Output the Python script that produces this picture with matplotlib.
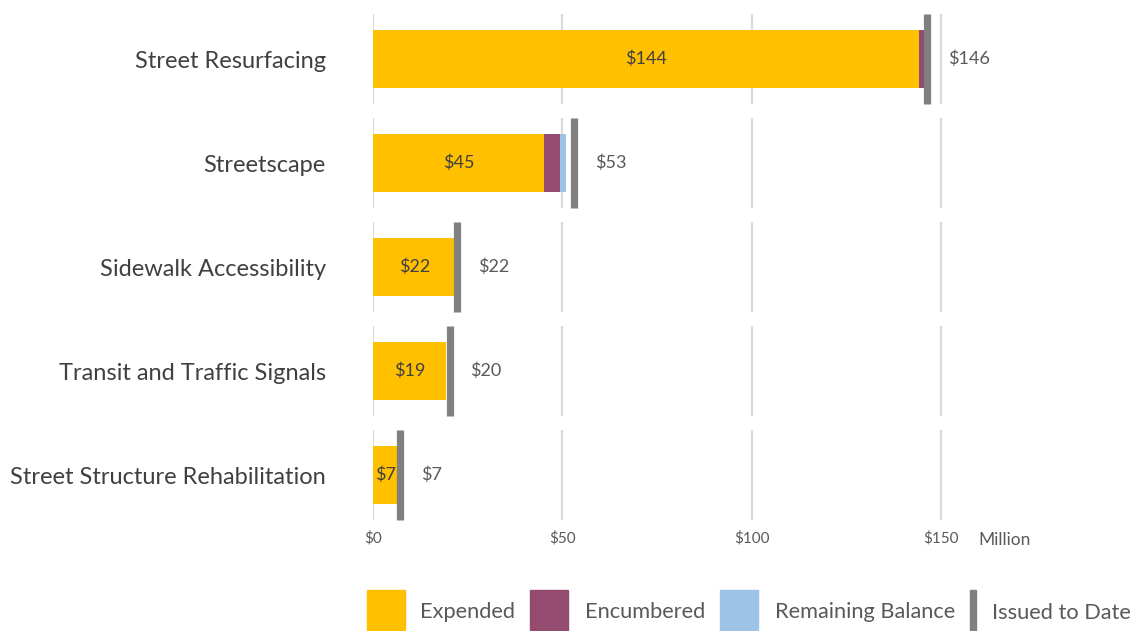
import matplotlib.pyplot as plt
from matplotlib.patches import Rectangle

# bond program spending by category, $ million
categories = ["Street Resurfacing", "Streetscape", "Sidewalk Accessibility",
              "Transit and Traffic Signals", "Street Structure Rehabilitation"]
expended = [144.1, 45.1, 21.8, 19.3, 6.6]
encumbered = [1.5, 4.4, 0.0, 0.0, 0.0]
remaining = [0.3, 1.4, 0.0, 0.0, 0.0]
issued = [146.3, 53.2, 22.2, 20.2, 7.1]
ticks = [0, 50, 100, 150]
tick_labels = ["$0", "$50", "$100", "$150"]

c_exp = "#FFC000"
c_enc = "#934C70"
c_rem = "#9DC3E6"
c_iss = "#808080"
c_grid = "#D9D9D9"

plt.rcParams["font.family"] = ["Lato", "DejaVu Sans"]

fig = plt.figure(figsize=(11.35, 6.31), dpi=100)
W, H = 1135, 631
ax = fig.add_axes([373 / W, 1 - 527 / H, 606 / W, 520 / H])

y = list(range(len(categories)))
half = 0.43

# gridlines, broken per row
for i in y:
    ax.vlines(ticks, i - half, i + half, color=c_grid, lw=1.6, zorder=0)

left2 = [a + b for a, b in zip(expended, encumbered)]
ax.barh(y, expended, height=0.55, color=c_exp, zorder=2)
ax.barh(y, encumbered, left=expended, height=0.55, color=c_enc, zorder=2)
ax.barh(y, remaining, left=left2, height=0.55, color=c_rem, zorder=2)
for i in y:
    ax.vlines(issued[i], i - half, i + half, color=c_iss, lw=5.2, zorder=3)
    ax.text(expended[i] / 2, i, "$%d" % round(expended[i]), ha="center", va="center",
            fontsize=13, color="#404040", zorder=4)
    ax.text(issued[i] + 5.5, i, "$%d" % round(issued[i]), ha="left", va="center",
            fontsize=13, color="#595959")

ax.set_xlim(0, 160)
ax.set_ylim(4.5, -0.5)
ax.set_yticks(y)
ax.set_yticklabels(categories, fontsize=17, color="#404040")
ax.set_xticks(ticks)
ax.set_xticklabels(tick_labels, fontsize=11, color="#595959")
ax.tick_params(axis="y", length=0, pad=34)
ax.tick_params(axis="x", length=0, pad=3)
for s in ax.spines.values():
    s.set_visible(False)

fig.text(978 / W, 1 - 540 / H, "Million", fontsize=12.5, color="#595959", va="center")

# legend, drawn by hand along the bottom
ly = 1 - 630 / H
lh = 40 / H
items = [(367, c_exp, "Expended", 420), (530, c_enc, "Encumbered", 585),
         (720, c_rem, "Remaining Balance", 775)]
for x0, col, lab, tx in items:
    fig.patches.append(Rectangle((x0 / W, ly), 38 / W, lh, transform=fig.transFigure,
                                 color=col))
    fig.text(tx / W, 1 - 612 / H, lab, fontsize=15.7, color="#595959", va="center")
fig.patches.append(Rectangle((970 / W, ly), 6 / W, lh, transform=fig.transFigure,
                             color=c_iss))
fig.text(992 / W, 1 - 613 / H, "Issued to Date", fontsize=15.7, color="#595959",
         va="center")

fig.savefig("out.png", dpi=100)
